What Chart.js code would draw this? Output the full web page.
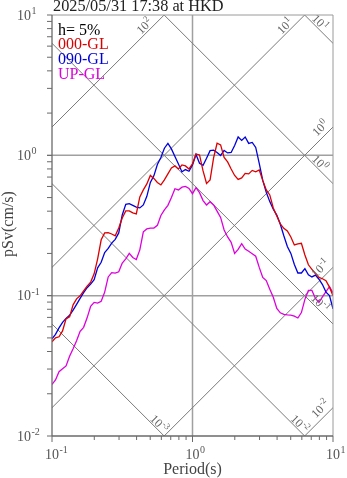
<!DOCTYPE html>
<html>
<head>
<meta charset="utf-8">
<script src="https://cdn.jsdelivr.net/npm/chart.js@4.4.0/dist/chart.umd.min.js"></script>
<style>
html, body { margin: 0; padding: 0; background: #fff; }
canvas { display: block; }
</style>
</head>
<body>
<canvas id="grafico_psv" width="347" height="478"></canvas>
<script>
// periodos (s) y pSv (cm/s)
var periodos = [0.1, 0.1059, 0.1122, 0.1189, 0.1259, 0.1334, 0.1413, 0.1496, 0.1585, 0.1679,
    0.1778, 0.1884, 0.1995, 0.2113, 0.2239, 0.2371, 0.2512, 0.2661, 0.2818, 0.2985,
    0.3162, 0.3350, 0.3548, 0.3758, 0.3981, 0.4217, 0.4467, 0.4732, 0.5012, 0.5309,
    0.5623, 0.5957, 0.6310, 0.6683, 0.7079, 0.7499, 0.7943, 0.8414, 0.8913, 0.9441,
    1.0, 1.059, 1.122, 1.189, 1.259, 1.334, 1.413, 1.496, 1.585, 1.679,
    1.778, 1.884, 1.995, 2.113, 2.239, 2.371, 2.512, 2.661, 2.818, 2.985,
    3.162, 3.350, 3.548, 3.758, 3.981, 4.217, 4.467, 4.732, 5.012, 5.309,
    5.623, 5.957, 6.310, 6.683, 7.079, 7.499, 7.943, 8.414, 8.913, 9.441,
    10.0];

var sv000 = [0.0469, 0.0500, 0.0509, 0.0561, 0.0684, 0.0706, 0.0860, 0.0949, 0.0997, 0.108,
    0.117, 0.125, 0.143, 0.183, 0.250, 0.280, 0.281, 0.275, 0.267, 0.304,
    0.358, 0.402, 0.402, 0.389, 0.383, 0.505, 0.567, 0.626, 0.719, 0.685,
    0.641, 0.615, 0.668, 0.737, 0.814, 0.841, 0.800, 0.854, 0.841, 0.800,
    0.868, 1.023, 1.007, 0.774, 0.631, 0.668, 0.958, 1.219, 1.186, 0.966,
    0.897, 0.800, 0.719, 0.674, 0.690, 0.743, 0.737, 0.781, 0.762, 0.787,
    0.663, 0.567, 0.522, 0.422, 0.370, 0.325, 0.302, 0.289, 0.262, 0.230,
    0.234, 0.236, 0.195, 0.166, 0.154, 0.143, 0.135, 0.132, 0.128, 0.115,
    0.100];

var sv090 = [0.0492, 0.0530, 0.0590, 0.0645, 0.0689, 0.0724, 0.0788, 0.0867, 0.0957, 0.105,
    0.114, 0.121, 0.130, 0.158, 0.173, 0.203, 0.217, 0.237, 0.252, 0.280,
    0.376, 0.447, 0.452, 0.440, 0.428, 0.422, 0.443, 0.510, 0.641, 0.714,
    0.861, 0.966, 1.124, 1.216, 1.111, 0.982, 0.868, 0.762, 0.792, 0.770,
    0.854, 1.015, 0.878, 0.848, 0.953, 1.080, 1.089, 1.049, 0.998, 1.084,
    1.040, 1.049, 1.176, 1.352, 1.277, 1.352, 1.216, 1.236, 1.138, 0.876,
    0.663, 0.546, 0.468, 0.413, 0.375, 0.323, 0.267, 0.224, 0.200, 0.167,
    0.145, 0.145, 0.156, 0.141, 0.136, 0.140, 0.131, 0.120, 0.106, 0.100,
    0.0805];

var svUP = [0.0233, 0.0251, 0.0287, 0.0301, 0.0316, 0.0370, 0.0418, 0.0477, 0.0557, 0.0595,
    0.0695, 0.0839, 0.0896, 0.0884, 0.0911, 0.106, 0.136, 0.146, 0.145, 0.148,
    0.171, 0.183, 0.200, 0.187, 0.181, 0.212, 0.285, 0.299, 0.303, 0.303,
    0.317, 0.373, 0.408, 0.440, 0.501, 0.578, 0.567, 0.593, 0.600, 0.581,
    0.533, 0.589, 0.542, 0.476, 0.443, 0.467, 0.443, 0.400, 0.361, 0.294,
    0.262, 0.240, 0.200, 0.214, 0.235, 0.215, 0.207, 0.199, 0.191, 0.159,
    0.135, 0.128, 0.111, 0.0973, 0.0812, 0.0755, 0.0736, 0.0730, 0.0726, 0.0714,
    0.0693, 0.0758, 0.0941, 0.109, 0.109, 0.0955, 0.0895, 0.0981, 0.107, 0.116,
    0.105];

var nombres = ["000-GL", "090-GL", "UP-GL"];
var colores = ["#dd0000", "#0000dd", "#dd00dd"];
var titulo = "2025/05/31 17:38 at HKD";
var amortiguamiento = "h= 5%";

var ticksX = [0.1, 1, 10];
var ticksY = [0.01, 0.1, 1, 10];
var rejillaX = [1];
var rejillaY = [0.1, 1];
var lineasSd = [10, 1, 0.1, 0.01, 0.001];     // desplazamiento (cm)
var lineasSa = [100, 10, 1, 0.1, 0.01];       // aceleracion (cm/s2)

var DOS_PI = 2 * Math.PI;
var fuente = '"Liberation Serif", "Times New Roman", serif';

function linea(ctx, x1, y1, x2, y2) {
    ctx.beginPath();
    ctx.moveTo(x1, y1);
    ctx.lineTo(x2, y2);
    ctx.stroke();
}

// dibuja "10" con exponente
function potencia(ctx, exp, x, y, tBase, tExp, modo) {
    ctx.font = tBase + "px " + fuente;
    var wb = ctx.measureText("10").width;
    ctx.font = tExp + "px " + fuente;
    var we = ctx.measureText(exp).width;
    var x0 = x;
    if (modo === "centro10") x0 = x - wb / 2;
    if (modo === "centro") x0 = x - (wb + we) / 2;
    ctx.textAlign = "left";
    ctx.textBaseline = "alphabetic";
    ctx.font = tBase + "px " + fuente;
    ctx.fillText("10", x0, y);
    ctx.font = tExp + "px " + fuente;
    ctx.fillText(exp, x0 + wb + 0.5, y - tBase * 0.4);
}

function exponente(v) {
    return String(Math.round(Math.log10(v)));
}

var tripartito = {
    id: "tripartito",
    beforeDatasetsDraw: function (chart) {
        var ctx = chart.ctx, a = chart.chartArea;
        var sx = chart.scales.x, sy = chart.scales.y;
        ctx.save();
        ctx.beginPath();
        ctx.rect(a.left, a.top, a.right - a.left, a.bottom - a.top);
        ctx.clip();

        ctx.strokeStyle = "#a0a0a0";
        ctx.lineWidth = 1.5;
        rejillaX.forEach(function (t) {
            var px = sx.getPixelForValue(t);
            linea(ctx, px, a.top, px, a.bottom);
        });
        rejillaY.forEach(function (v) {
            var py = sy.getPixelForValue(v);
            linea(ctx, a.left, py, a.right, py);
        });

        ctx.strokeStyle = "#7a7a7a";
        ctx.lineWidth = 1;
        var t0 = sx.min, t1 = sx.max;
        lineasSd.forEach(function (d) {
            linea(ctx, sx.getPixelForValue(t0), sy.getPixelForValue(DOS_PI * d / t0),
                sx.getPixelForValue(t1), sy.getPixelForValue(DOS_PI * d / t1));
        });
        lineasSa.forEach(function (s) {
            linea(ctx, sx.getPixelForValue(t0), sy.getPixelForValue(s * t0 / DOS_PI),
                sx.getPixelForValue(t1), sy.getPixelForValue(s * t1 / DOS_PI));
        });
        ctx.restore();
    },
    afterDatasetsDraw: function (chart) {
        var ctx = chart.ctx, a = chart.chartArea;
        var sx = chart.scales.x, sy = chart.scales.y;
        ctx.save();

        // marco
        ctx.lineWidth = 1;
        ctx.strokeStyle = "#9a9a9a";
        linea(ctx, a.left, a.top, a.right, a.top);
        linea(ctx, a.right, a.top, a.right, a.bottom);
        ctx.strokeStyle = "#6a6a6a";
        ctx.lineWidth = 1.3;
        linea(ctx, a.left, a.top, a.left, a.bottom);
        linea(ctx, a.left, a.bottom, a.right, a.bottom);

        // marcas menores
        ctx.lineWidth = 1;
        for (var e = -2; e <= 0; e++) {
            for (var k = 1; k <= 10; k++) {
                var v = k * Math.pow(10, e);
                var py = sy.getPixelForValue(v);
                linea(ctx, a.left - 5, py, a.left, py);
            }
        }
        for (var e2 = -1; e2 <= 0; e2++) {
            for (var k2 = 1; k2 <= 10; k2++) {
                var t = k2 * Math.pow(10, e2);
                var px = sx.getPixelForValue(t);
                var largo = (k2 === 1 || k2 === 10) ? 6 : 4;
                linea(ctx, px, a.bottom, px, a.bottom + largo);
            }
        }

        // etiquetas de ejes
        ctx.fillStyle = "#555";
        ticksY.forEach(function (v) {
            potencia(ctx, exponente(v), 17, sy.getPixelForValue(v) + 4.5, 14, 10, "izq");
        });
        ticksX.forEach(function (t) {
            potencia(ctx, exponente(t), sx.getPixelForValue(t), 459, 14, 10, "centro10");
        });

        // etiquetas de lineas diagonales
        ctx.fillStyle = "#666";
        var t0 = sx.min, t1 = sx.max, vMin = sy.min, vMax = sy.max;
        lineasSa.forEach(function (s) {
            var vFin = s * t1 / DOS_PI, cx, cy;
            if (vFin <= vMax) {
                cx = sx.getPixelForValue(t1) - 13; cy = sy.getPixelForValue(vFin) + 1;
            } else {
                cx = sx.getPixelForValue(DOS_PI * vMax / s) - 20; cy = sy.getPixelForValue(vMax) + 11;
            }
            ctx.save();
            ctx.translate(cx, cy);
            ctx.rotate(-Math.PI / 4);
            potencia(ctx, exponente(s), 0, 4, 12, 9, "centro");
            ctx.restore();
        });
        lineasSd.forEach(function (d) {
            var vFin = DOS_PI * d / t1, cx, cy;
            if (vFin >= vMin) {
                cx = sx.getPixelForValue(t1) - 13; cy = sy.getPixelForValue(vFin) - 21;
            } else {
                cx = sx.getPixelForValue(DOS_PI * d / vMin) - 5; cy = sy.getPixelForValue(vMin) - 12.5;
            }
            ctx.save();
            ctx.translate(cx, cy);
            ctx.rotate(Math.PI / 4);
            potencia(ctx, exponente(d), 0, 4, 12, 9, "centro");
            ctx.restore();
        });

        // titulos
        ctx.textBaseline = "alphabetic";
        ctx.fillStyle = "#222";
        ctx.font = "16.3px " + fuente;
        ctx.textAlign = "left";
        ctx.fillText(titulo, 53, 11);

        ctx.font = "16px " + fuente;
        ctx.fillStyle = "#444";
        ctx.textAlign = "center";
        ctx.fillText("Period(s)", (a.left + a.right) / 2, 474);
        ctx.save();
        ctx.translate(13, 224);
        ctx.rotate(-Math.PI / 2);
        ctx.fillText("pSv(cm/s)", 0, 0);
        ctx.restore();

        // leyenda
        ctx.textAlign = "left";
        ctx.fillStyle = "#000";
        ctx.fillText(amortiguamiento, 58, 35);
        nombres.forEach(function (n, i) {
            ctx.fillStyle = colores[i];
            ctx.fillText(n, 58, 49 + i * 15);
        });
        ctx.restore();
    }
};

document.addEventListener("DOMContentLoaded", function () {
    var series = [sv000, sv090, svUP];
    var datos = {
        datasets: series.map(function (s, i) {
            return {
                label: nombres[i],
                data: periodos.map(function (t, j) { return { x: t, y: s[j] }; }),
                borderColor: colores[i],
                borderWidth: 1.3,
                pointRadius: 0,
                tension: 0,
                fill: false
            };
        })
    };
    var ctx = document.getElementById("grafico_psv").getContext("2d");
    var myChart = new Chart(ctx, {
        type: "line",
        data: datos,
        plugins: [tripartito],
        options: {
            responsive: false,
            animation: false,
            devicePixelRatio: 1,
            layout: { padding: { left: 52, top: 15, right: 14, bottom: 42 } },
            plugins: { legend: { display: false }, tooltip: { enabled: false }, title: { display: false } },
            scales: {
                x: { type: "logarithmic", min: 0.1, max: 10, display: false },
                y: { type: "logarithmic", min: 0.01, max: 10, display: false }
            }
        }
    });
});
</script>
</body>
</html>
